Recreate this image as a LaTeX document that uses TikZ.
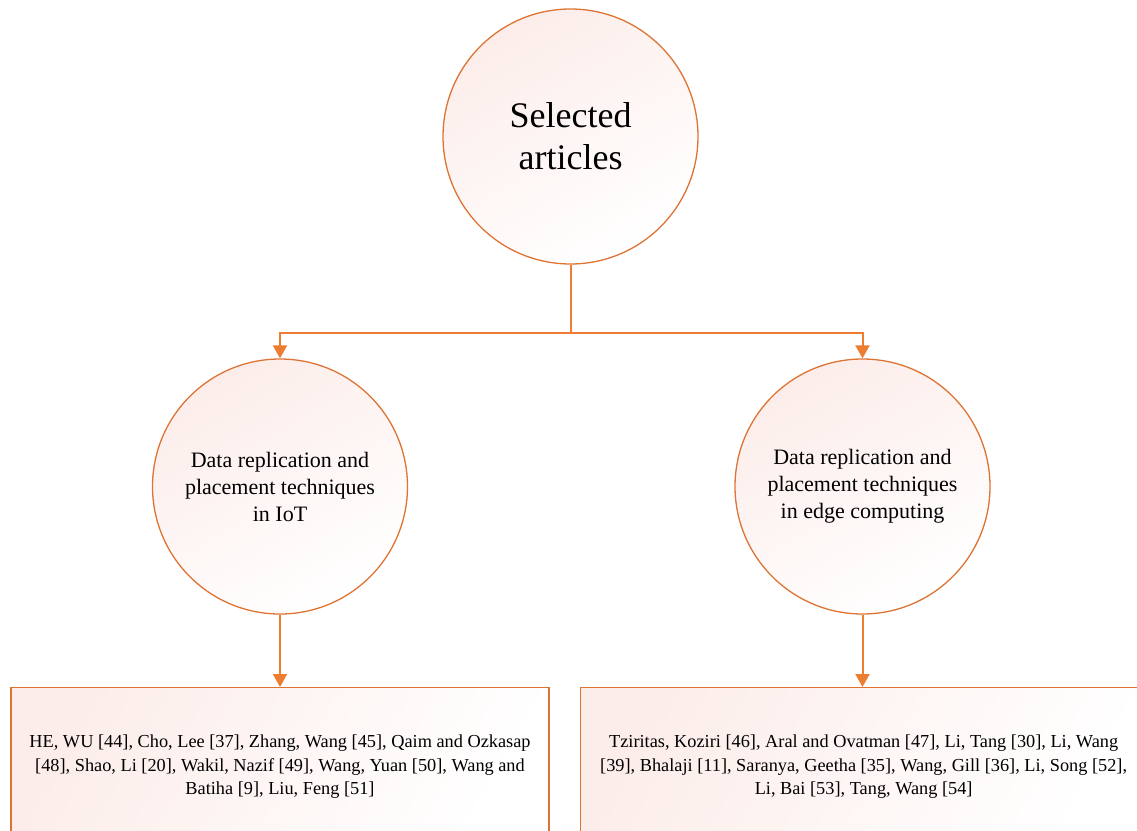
\documentclass[tikz,border=0pt]{standalone}
\usepackage{fontspec}
\setmainfont{Liberation Serif}
\usetikzlibrary{arrows.meta,positioning,calc}
\definecolor{linkorange}{HTML}{ED7D31}
\definecolor{rimorange}{HTML}{DD7434}
\definecolor{blush}{HTML}{FCEDEA}
\begin{document}
\begin{tikzpicture}[x=1pt,y=-1pt,line join=miter]
\tikzstyle{every node}=[font=\fontsize{18.3}{23.5}\selectfont,align=center]
  \tikzstyle{topic}=[circle,draw=rimorange,line width=1.3pt,minimum size=255pt,inner sep=0pt,
    top color=blush,bottom color=white,shading angle=30]
  \tikzstyle{listbox}=[rectangle,draw=rimorange,line width=1.3pt,minimum height=158pt,inner sep=0pt,
    top color=blush,bottom color=white,shading angle=60]
  \tikzstyle{link}=[draw=linkorange,line width=2pt,-{Triangle[width=14pt,length=13pt]}]
%
\useasboundingbox (0,0) rectangle (1137,830);
\clip (0,0) rectangle (1137,830);
%
\node[topic,font=\fontsize{36}{42}\selectfont] (sel) at (570.5,136.5) {Selected\\articles};
  \node[topic,font=\fontsize{22}{27}\selectfont] (iot) at (280,486.5) {Data replication and\\placement techniques\\in IoT};
  \node[topic,font=\fontsize{22}{27}\selectfont] (edge) at (862.5,486.5) {Data replication and\\placement techniques\\in edge computing};
  \node[listbox,minimum width=538pt,anchor=north] (iotlist) at (280,687) {HE, WU [44], Cho, Lee [37], Zhang, Wang [45], Qaim and Ozkasap\\{}[48], Shao, Li [20], Wakil, Nazif [49], Wang, Yuan [50], Wang and\\Batiha [9], Liu, Feng [51]};
  \node[listbox,minimum width=566pt,anchor=north west] (edgelist) at (580,687) {Tziritas, Koziri [46], Aral and Ovatman [47], Li, Tang [30], Li, Wang\\{}[39], Bhalaji [11], Saranya, Geetha [35], Wang, Gill [36], Li, Song [52],\\Li, Bai [53], Tang, Wang [54]};
  \coordinate (split) at ($(sel.south)+(0,68)$);
%
  \draw[draw=linkorange,line width=2pt] (sel.south) -- (split);
  \draw[link] (split) -| (iot.north);
  \draw[link] (split) -| (edge.north);
  \draw[link] (iot.south) -- (iot.south |- iotlist.north);
  \draw[link] (edge.south) -- (edge.south |- edgelist.north);
\end{tikzpicture}
\end{document}
